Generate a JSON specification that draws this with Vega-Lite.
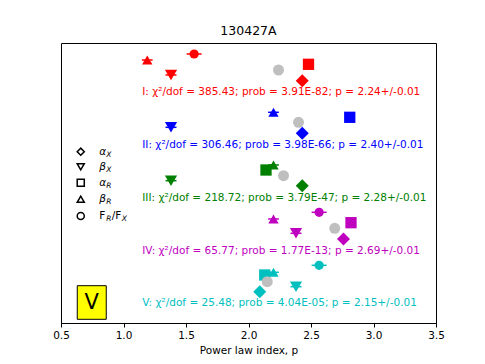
{
  "$schema": "https://vega.github.io/schema/vega-lite/v6.json",
  "width": 375,
  "height": 280,
  "autosize": {"type": "none"},
  "padding": {"left": 61, "top": 43, "right": 49, "bottom": 41},
  "background": "white",
  "config": {
    "font": "DejaVu Sans",
    "view": {"stroke": "black", "strokeWidth": 1},
    "axis": {"grid": false}
  },
  "title": {"text": "130427A", "fontSize": 12.5, "fontWeight": "normal", "font": "DejaVu Sans", "color": "black", "offset": 6},
  "datasets": {
    "pts": [
      {"g": "I", "k": "bR", "p": 1.19, "y": 26.3, "e": 0.043},
      {"g": "I", "k": "F", "p": 1.565, "y": 26.9, "e": 0.06},
      {"g": "I", "k": "bX", "p": 1.38, "y": 24.8, "e": 0.044},
      {"g": "I", "k": "aR", "p": 2.48, "y": 25.87, "e": 0},
      {"g": "I", "k": "aX", "p": 2.43, "y": 24.23, "e": 0},
      {"g": "II", "k": "bX", "p": 1.38, "y": 19.57, "e": 0.044},
      {"g": "II", "k": "bR", "p": 2.2, "y": 21.07, "e": 0.043},
      {"g": "II", "k": "aX", "p": 2.43, "y": 18.97, "e": 0},
      {"g": "II", "k": "aR", "p": 2.81, "y": 20.57, "e": 0},
      {"g": "III", "k": "bX", "p": 1.38, "y": 14.23, "e": 0.044},
      {"g": "III", "k": "aR", "p": 2.14, "y": 15.3, "e": 0},
      {"g": "III", "k": "bR", "p": 2.2, "y": 15.8, "e": 0.043},
      {"g": "III", "k": "aX", "p": 2.43, "y": 13.73, "e": 0},
      {"g": "IV", "k": "bR", "p": 2.2, "y": 10.4, "e": 0.043},
      {"g": "IV", "k": "F", "p": 2.565, "y": 11.07, "e": 0.06},
      {"g": "IV", "k": "bX", "p": 2.38, "y": 8.97, "e": 0.044},
      {"g": "IV", "k": "aR", "p": 2.82, "y": 10.03, "e": 0},
      {"g": "IV", "k": "aX", "p": 2.76, "y": 8.4, "e": 0},
      {"g": "V", "k": "F", "p": 2.565, "y": 5.77, "e": 0.06},
      {"g": "V", "k": "bR", "p": 2.2, "y": 5.07, "e": 0.043},
      {"g": "V", "k": "aR", "p": 2.13, "y": 4.8, "e": 0},
      {"g": "V", "k": "aX", "p": 2.09, "y": 3.13, "e": 0},
      {"g": "V", "k": "bX", "p": 2.38, "y": 3.63, "e": 0.044}
    ],
    "fits": [
      {"g": "I", "p": 2.24, "y": 25.3},
      {"g": "II", "p": 2.4, "y": 20.07},
      {"g": "III", "p": 2.28, "y": 14.73},
      {"g": "IV", "p": 2.69, "y": 9.47},
      {"g": "V", "p": 2.15, "y": 4.13}
    ],
    "notes": [
      {"g": "I", "p": 1.15, "y": 23.13, "t": "I: χ²/dof = 385.43; prob = 3.91E-82; p = 2.24+/-0.01"},
      {"g": "II", "p": 1.15, "y": 17.8, "t": "II: χ²/dof = 306.46; prob = 3.98E-66; p = 2.40+/-0.01"},
      {"g": "III", "p": 1.15, "y": 12.53, "t": "III: χ²/dof = 218.72; prob = 3.79E-47; p = 2.28+/-0.01"},
      {"g": "IV", "p": 1.15, "y": 7.23, "t": "IV: χ²/dof = 65.77; prob = 1.77E-13; p = 2.69+/-0.01"},
      {"g": "V", "p": 1.15, "y": 1.97, "t": "V: χ²/dof = 25.48; prob = 4.04E-05; p = 2.15+/-0.01"}
    ],
    "leg": [
      {"k": "aX", "sx": 0.658, "lx": 0.806, "y": 17.13, "greek": "α", "roman": "", "s1": "X", "m2": "", "s2": ""},
      {"k": "bX", "sx": 0.658, "lx": 0.806, "y": 15.63, "greek": "β", "roman": "", "s1": "X", "m2": "", "s2": ""},
      {"k": "aR", "sx": 0.658, "lx": 0.806, "y": 14.03, "greek": "α", "roman": "", "s1": "R", "m2": "", "s2": ""},
      {"k": "bR", "sx": 0.658, "lx": 0.806, "y": 12.37, "greek": "β", "roman": "", "s1": "R", "m2": "", "s2": ""},
      {"k": "F", "sx": 0.658, "lx": 0.806, "y": 10.7, "greek": "", "roman": "F", "s1": "R", "m2": "/F", "s2": "X"}
    ],
    "box": [
      {"x1": 0.63, "x2": 0.862, "y1": 3.73, "y2": 0.37, "cx": 0.746, "cy": 2.05, "t": "V"}
    ]
  },
  "layer": [
    {
      "data": {"name": "box"},
      "mark": {"type": "rect", "fill": "#ffff00", "stroke": "black", "strokeWidth": 1},
      "encoding": {
        "x": {"field": "x1", "type": "quantitative", "scale": {"domain": [0.5, 3.5], "nice": false, "zero": false},
          "axis": {"values": [0.5, 1.0, 1.5, 2.0, 2.5, 3.0, 3.5], "format": ".1f", "title": "Power law index, p",
            "labelFontSize": 10.5, "labelColor": "black", "labelFont": "DejaVu Sans", "titleFont": "DejaVu Sans",
            "titleFontSize": 10.5, "titleFontWeight": "normal", "titleColor": "black", "tickColor": "black",
            "domainColor": "black", "tickSize": 4, "labelPadding": 3, "titlePadding": 5, "labelFlush": false}},
        "x2": {"field": "x2"},
        "y": {"field": "y1", "type": "quantitative", "scale": {"domain": [0, 28], "nice": false, "zero": false}, "axis": null},
        "y2": {"field": "y2"}
      }
    },
    {
      "data": {"name": "box"},
      "mark": {"type": "text", "fontSize": 21, "baseline": "middle", "align": "center", "color": "black"},
      "encoding": {
        "x": {"field": "cx", "type": "quantitative"},
        "y": {"field": "cy", "type": "quantitative"},
        "text": {"field": "t"}
      }
    },
    {
      "data": {"name": "pts"},
      "transform": [{"filter": "datum.e > 0"}, {"calculate": "datum.p - datum.e", "as": "lo"}, {"calculate": "datum.p + datum.e", "as": "hi"}],
      "mark": {"type": "rule", "strokeWidth": 1.5},
      "encoding": {
        "x": {"field": "lo", "type": "quantitative"},
        "x2": {"field": "hi"},
        "y": {"field": "y", "type": "quantitative"},
        "color": {"field": "g", "type": "nominal", "scale": {"domain": ["I", "II", "III", "IV", "V"], "range": ["#ff0000", "#0000ff", "#008000", "#bf00bf", "#00bfbf"]}, "legend": null}
      }
    },
    {
      "data": {"name": "pts"},
      "transform": [{"filter": "datum.k != 'aX'"}],
      "mark": {"type": "point", "filled": true, "opacity": 1},
      "encoding": {
        "x": {"field": "p", "type": "quantitative"},
        "y": {"field": "y", "type": "quantitative"},
        "color": {"field": "g", "type": "nominal", "legend": null},
        "shape": {"field": "k", "type": "nominal", "scale": {"domain": ["aX", "bX", "aR", "bR", "F"], "range": ["diamond", "triangle-down", "square", "triangle-up", "circle"]}, "legend": null},
        "size": {"field": "k", "type": "nominal", "scale": {"domain": ["aX", "bX", "aR", "bR", "F"], "range": [170, 85, 95, 85, 110]}, "legend": null}
      }
    },
    {
      "data": {"name": "fits"},
      "mark": {"type": "circle", "color": "#bfbfbf", "opacity": 1, "size": 121},
      "encoding": {
        "x": {"field": "p", "type": "quantitative"},
        "y": {"field": "y", "type": "quantitative"}
      }
    },
    {
      "data": {"name": "pts"},
      "transform": [{"filter": "datum.k == 'aX'"}],
      "mark": {"type": "point", "filled": true, "opacity": 1, "shape": "diamond", "size": 170},
      "encoding": {
        "x": {"field": "p", "type": "quantitative"},
        "y": {"field": "y", "type": "quantitative"},
        "color": {"field": "g", "type": "nominal", "legend": null}
      }
    },
    {
      "data": {"name": "notes"},
      "mark": {"type": "text", "fontSize": 10.5, "align": "left", "baseline": "middle"},
      "encoding": {
        "x": {"field": "p", "type": "quantitative"},
        "y": {"field": "y", "type": "quantitative"},
        "text": {"field": "t"},
        "color": {"field": "g", "type": "nominal", "legend": null}
      }
    },
    {
      "data": {"name": "leg"},
      "mark": {"type": "point", "filled": false, "stroke": "black", "strokeWidth": 1.5, "opacity": 1},
      "encoding": {
        "x": {"field": "sx", "type": "quantitative"},
        "y": {"field": "y", "type": "quantitative"},
        "shape": {"field": "k", "type": "nominal", "legend": null},
        "size": {"value": 50}
      }
    },
    {
      "data": {"name": "leg"},
      "mark": {"type": "text", "fontSize": 10.5, "align": "left", "baseline": "middle", "fontStyle": "italic", "color": "black"},
      "encoding": {
        "x": {"field": "lx", "type": "quantitative"},
        "y": {"field": "y", "type": "quantitative"},
        "text": {"field": "greek"}
      }
    },
    {
      "data": {"name": "leg"},
      "mark": {"type": "text", "fontSize": 10.5, "align": "left", "baseline": "middle", "color": "black"},
      "encoding": {
        "x": {"field": "lx", "type": "quantitative"},
        "y": {"field": "y", "type": "quantitative"},
        "text": {"field": "roman"}
      }
    },
    {
      "data": {"name": "leg"},
      "mark": {"type": "text", "fontSize": 7.5, "align": "left", "baseline": "middle", "fontStyle": "italic", "color": "black", "dx": 7, "dy": 3},
      "encoding": {
        "x": {"field": "lx", "type": "quantitative"},
        "y": {"field": "y", "type": "quantitative"},
        "text": {"field": "s1"}
      }
    },
    {
      "data": {"name": "leg"},
      "mark": {"type": "text", "fontSize": 10.5, "align": "left", "baseline": "middle", "color": "black", "dx": 12.5},
      "encoding": {
        "x": {"field": "lx", "type": "quantitative"},
        "y": {"field": "y", "type": "quantitative"},
        "text": {"field": "m2"}
      }
    },
    {
      "data": {"name": "leg"},
      "mark": {"type": "text", "fontSize": 7.5, "align": "left", "baseline": "middle", "fontStyle": "italic", "color": "black", "dx": 22.5, "dy": 3},
      "encoding": {
        "x": {"field": "lx", "type": "quantitative"},
        "y": {"field": "y", "type": "quantitative"},
        "text": {"field": "s2"}
      }
    }
  ]
}
